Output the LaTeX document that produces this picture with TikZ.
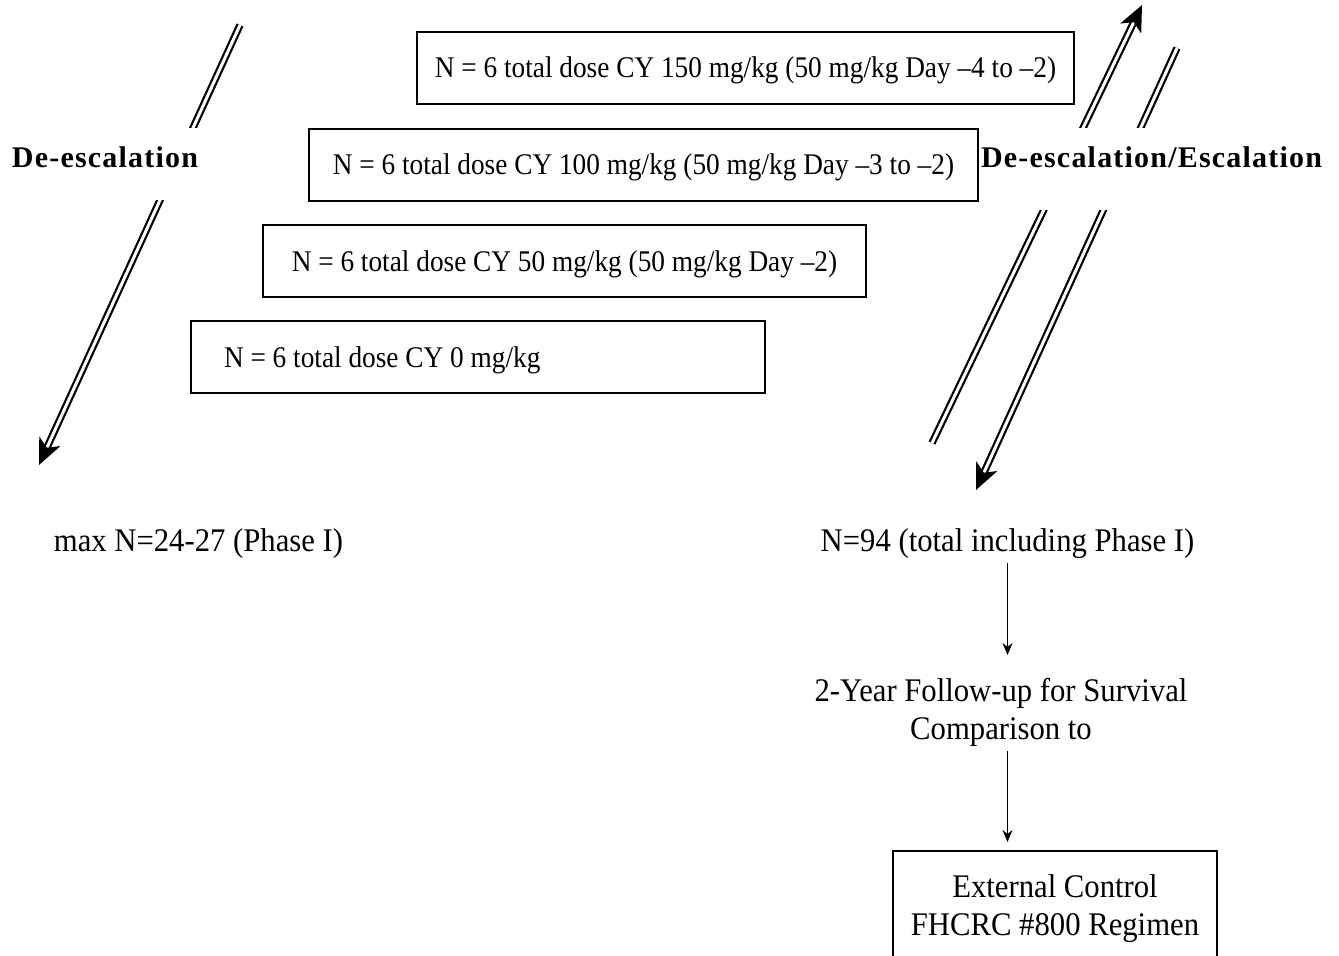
\documentclass[tikz,border=0pt]{standalone}
\usepackage{fontspec}
\setmainfont{Liberation Serif}[FakeStretch=0.93]
\newfontfamily\dosefont{Liberation Serif}[FakeStretch=0.91]
\newfontfamily\escfont{Liberation Serif}[LetterSpace=4]
\usetikzlibrary{arrows.meta}

\tikzset{
  dosebox/.style={draw, line width=1pt, inner sep=0pt, minimum height=36pt,
    text height=11pt, text depth=1pt, font=\dosefont\fontsize{15}{18}\selectfont},
  esclabel/.style={fill=white, inner sep=0pt, text height=10pt,
    font=\escfont\bfseries\fontsize{15}{18}\selectfont},
  lowtext/.style={inner sep=2pt, align=center, font=\fontsize{16.5}{19}\selectfont},
  dblarrow/.style={double, double distance=1.5pt, line width=1.1pt,
    -{Stealth[length=13pt,width=11.5pt,inset=3.5pt]}},
  thinarrow/.style={line width=0.8pt, -{Stealth[length=6pt,width=5pt]}}
}

\begin{document}
\begin{tikzpicture}[x=0.5pt,y=-0.5pt]
\useasboundingbox (0,0) rectangle (1339,955);

% ends of the double arrows
\coordinate (deTop) at (240,25);
\coordinate (deTip) at (39,465);
\coordinate (upTail) at (932,443);
\coordinate (upTip) at (1142,5);
\coordinate (dnTop) at (1177,48);
\coordinate (dnTip) at (976,490);
\draw[dblarrow] (deTop) -- (deTip);
\draw[dblarrow] (upTail) -- (upTip);
\draw[dblarrow] (dnTop) -- (dnTip);

% labels on the arrows
\node[esclabel, minimum width=100pt, minimum height=36pt, text depth=6.5pt] (deLbl) at (105,164) {De-escalation};
\node[esclabel, minimum width=170pt, minimum height=41pt, text depth=11.5pt] (escLbl) at (1151.5,169) {De-escalation/Escalation};

% dose levels
\node[dosebox, minimum width=328.5pt] (cy150) at (745.5,67.5) {N = 6 total dose CY 150 mg/kg (50 mg/kg Day –4 to –2)};
\node[dosebox, minimum width=334.5pt] (cy100) at (643.5,164.5) {N = 6 total dose CY 100 mg/kg (50 mg/kg Day –3 to –2)};
\node[dosebox, minimum width=301.5pt] (cy50) at (564.5,261) {N = 6 total dose CY 50 mg/kg (50 mg/kg Day –2)};
\node[dosebox, minimum width=287pt, text width=254pt, align=flush left] (cy0) at (478,357) {N = 6 total dose CY 0 mg/kg};

% totals and follow-up
\node[lowtext, anchor=base] (maxN) at (198.5,551) {max N=24-27 (Phase I)};
\node[lowtext, anchor=base] (n94) at (1007.5,551) {N=94 (total including Phase I)};
\node[lowtext, anchor=north] (follow) at (1001,673.5) {2-Year Follow-up for Survival\\Comparison to};
\node[lowtext, draw, line width=1pt, anchor=north, minimum width=162pt, inner ysep=12pt] (ctrl) at (1055,850) {External Control\\FHCRC \#800 Regimen};

\draw[thinarrow, shorten >=9.25pt] (n94.south) -- (n94.south |- follow.north);
\draw[thinarrow, shorten >=4pt] (n94.south |- follow.south) -- (n94.south |- ctrl.north);
\end{tikzpicture}
\end{document}
